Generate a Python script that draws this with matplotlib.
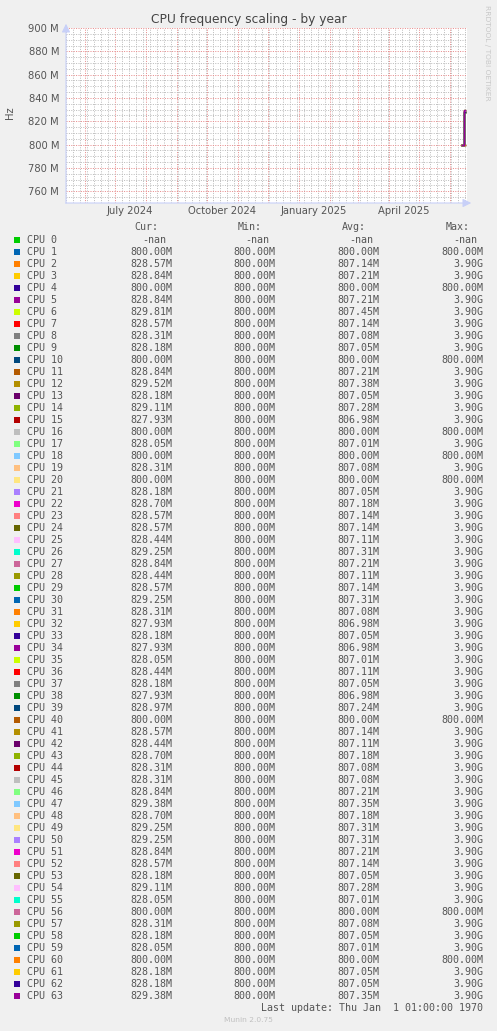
import numpy as np
import pandas as pd
import matplotlib
matplotlib.use("Agg")
import matplotlib.pyplot as plt
import matplotlib.dates as mdates
from matplotlib.patches import Rectangle
from matplotlib.ticker import MultipleLocator, FuncFormatter

W, H = 497, 1031

# munin default palette (repeats after 29)
palette = ["#00CC00", "#0066B3", "#FF8000", "#FFCC00", "#330099", "#990099",
           "#CCFF00", "#FF0000", "#808080", "#008F00", "#00487D", "#B35A00",
           "#B38F00", "#6B006B", "#8FB300", "#B30000", "#BEBEBE", "#80FF80",
           "#80C9FF", "#FFC080", "#FFE680", "#AA80FF", "#EE00CC", "#FF8080",
           "#666600", "#FFBFFF", "#00FFCC", "#CC6699", "#999900"]

cpus = ["CPU %d" % i for i in range(64)]
cur = [np.nan, 800.00, 828.57, 828.84, 800.00, 828.84, 829.81, 828.57, 828.31, 828.18,
       800.00, 828.84, 829.52, 828.18, 829.11, 827.93, 800.00, 828.05, 800.00, 828.31,
       800.00, 828.18, 828.70, 828.57, 828.57, 828.44, 829.25, 828.84, 828.44, 828.57,
       829.25, 828.31, 827.93, 828.18, 827.93, 828.05, 828.44, 828.18, 827.93, 828.97,
       800.00, 828.57, 828.44, 828.70, 828.31, 828.31, 828.84, 829.38, 828.70, 829.25,
       829.25, 828.84, 828.57, 828.18, 829.11, 828.05, 800.00, 828.31, 828.18, 828.05,
       800.00, 828.18, 828.18, 829.38]
avg = [np.nan, 800.00, 807.14, 807.21, 800.00, 807.21, 807.45, 807.14, 807.08, 807.05,
       800.00, 807.21, 807.38, 807.05, 807.28, 806.98, 800.00, 807.01, 800.00, 807.08,
       800.00, 807.05, 807.18, 807.14, 807.14, 807.11, 807.31, 807.21, 807.11, 807.14,
       807.31, 807.08, 806.98, 807.05, 806.98, 807.01, 807.11, 807.05, 806.98, 807.24,
       800.00, 807.14, 807.11, 807.18, 807.08, 807.08, 807.21, 807.35, 807.18, 807.31,
       807.31, 807.21, 807.14, 807.05, 807.28, 807.01, 800.00, 807.08, 807.05, 807.01,
       800.00, 807.05, 807.05, 807.35]
mins = [np.nan] + [800.00] * 63
maxs = [np.nan if i == 0 else (800.0 if c == 800.0 else 3900.0) for i, c in enumerate(cur)]

# samples at the very end of the year window (MHz)
times = pd.to_datetime(["2025-06-13 00:00", "2025-06-15 00:00", "2025-06-15 18:00"])
start_val = 800.0

xmin, xmax = pd.Timestamp("2024-05-13"), pd.Timestamp("2025-06-18")

def fx(x):
    return x / W

def fy(y):
    return 1 - y / H

def fmt(v):
    if np.isnan(v):
        return "-nan "
    if v >= 1000:
        return "%.2fG" % (v / 1000)
    return "%.2fM" % v

fig = plt.figure(figsize=(W / 100, H / 100), dpi=100, facecolor="#F0F0F0")
ax = fig.add_axes([fx(66), fy(203), fx(467) - fx(66), fy(28) - fy(203)])
ax.set_facecolor("white")

for i in range(64):
    if np.isnan(cur[i]):
        continue
    vals = np.array([start_val, cur[i], cur[i]]) * 1e6
    ax.plot(times, vals, drawstyle="steps-post", color=palette[i % len(palette)], lw=1.0)

ax.set_xlim(xmin, xmax)
ax.set_ylim(750e6, 900e6)

ax.yaxis.set_major_locator(MultipleLocator(20e6))
ax.yaxis.set_minor_locator(MultipleLocator(5e6))
ax.yaxis.set_major_formatter(FuncFormatter(lambda v, p: "%d M" % round(v / 1e6)))

ax.xaxis.set_major_locator(mdates.MonthLocator())
ax.xaxis.set_minor_locator(mdates.WeekdayLocator(byweekday=mdates.MO))
ax.xaxis.set_major_formatter(plt.NullFormatter())

ax.grid(which="minor", color="#BDBDBD", lw=0.72, ls=(0, (1, 1.4)))
ax.grid(which="major", color="#E88C8C", lw=0.72, ls=(0, (1, 1.4)))
ax.set_axisbelow(True)

for s in ax.spines.values():
    s.set_visible(False)
ax.tick_params(which="both", length=0, labelsize=7.2, colors="#555555")
ax.tick_params(axis="y", pad=5)

# quarter labels at mid month
for d, lab in [("2024-07-16", "July 2024"), ("2024-10-16", "October 2024"),
               ("2025-01-16", "January 2025"), ("2025-04-16", "April 2025")]:
    ax.text(pd.Timestamp(d), -0.045, lab, transform=ax.get_xaxis_transform(),
            ha="center", va="center", fontsize=7.2, color="#555555")

# axis lines with arrows
axc = "#C8D0F8"
ax.annotate("", xy=(fx(474), fy(203)), xytext=(fx(63), fy(203)), xycoords="figure fraction",
            arrowprops=dict(arrowstyle="-|>,head_length=0.5,head_width=0.25", color=axc, lw=0.8))
ax.annotate("", xy=(fx(66), fy(21)), xytext=(fx(66), fy(206)), xycoords="figure fraction",
            arrowprops=dict(arrowstyle="-|>,head_length=0.5,head_width=0.25", color=axc, lw=0.8))

fig.text(0.5, fy(19), "CPU frequency scaling - by year", ha="center", va="center",
         fontsize=8.8, color="#444444")
fig.text(fx(10), fy(113), "Hz", rotation=90, ha="center", va="center", fontsize=7.2, color="#555555")
fig.text(fx(487), fy(5), "RRDTOOL / TOBI OETIKER", rotation=270, ha="center", va="top",
         fontsize=5.4, color="#C8C8C8")

mono = dict(family="DejaVu Sans Mono", fontsize=7.2, color="#555555")
col_right = [172, 275, 379, 483]
head_right = [158, 262, 366, 470]
for xr, h in zip(head_right, ["Cur:", "Min:", "Avg:", "Max:"]):
    fig.text(fx(xr), fy(227), h, ha="right", va="center", **mono)

for i in range(64):
    yc = 240 + 12 * i
    fig.add_artist(Rectangle((fx(14), fy(yc + 3)), 6 / W, 6 / H, transform=fig.transFigure,
                             facecolor=palette[i % len(palette)], edgecolor="none"))
    fig.text(fx(27), fy(yc), cpus[i], ha="left", va="center", **mono)
    for xr, v in zip(col_right, [cur[i], mins[i], avg[i], maxs[i]]):
        s = fmt(v)
        off = 0
        if s.endswith(" "):
            s = s.strip()
            off = 6
        fig.text(fx(xr - off), fy(yc), s, ha="right", va="center", **mono)

fig.text(fx(483), fy(1008), "Last update: Thu Jan  1 01:00:00 1970", ha="right", va="center", **mono)
fig.text(0.5, fy(1020), "Munin 2.0.75", ha="center", va="center", fontsize=5.4, color="#C0C0C0")

fig.savefig("out.png", dpi=100, facecolor=fig.get_facecolor())
